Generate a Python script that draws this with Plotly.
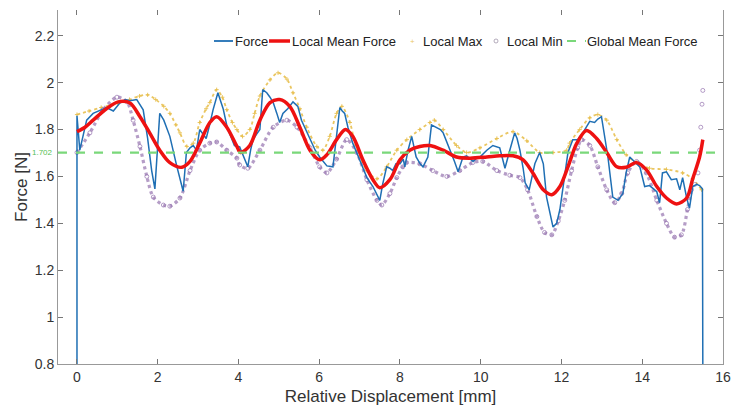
import plotly.graph_objects as go

# ---------------- data ----------------
force_x = [0, 0, 0.07, 0.15, 0.24, 0.4, 0.55, 0.73, 0.9, 1.06, 1.19, 1.31, 1.48, 1.64, 1.75, 1.85, 1.93, 1.98,
           2.05, 2.15, 2.3, 2.47, 2.63, 2.71, 2.8, 2.88, 2.96, 3.04, 3.12, 3.2, 3.3, 3.37, 3.49, 3.62, 3.72, 3.79,
           3.9, 4.03, 4.15, 4.23, 4.3, 4.36, 4.45, 4.53, 4.6, 4.7, 4.78, 4.86, 4.95, 5.02, 5.1, 5.22, 5.35, 5.47,
           5.56, 5.66, 5.77, 5.9, 6.01, 6.1, 6.19, 6.34, 6.43, 6.51, 6.57, 6.63, 6.71, 6.83, 7.0, 7.1, 7.18, 7.33,
           7.42, 7.5, 7.57, 7.67, 7.75, 7.82, 7.9, 8.0, 8.08, 8.12, 8.2, 8.29, 8.4, 8.5, 8.57, 8.69, 8.78, 8.9,
           9.0, 9.07, 9.15, 9.23, 9.35, 9.44, 9.56, 9.65, 9.73, 9.81, 9.9, 9.98, 10.15, 10.3, 10.47, 10.55, 10.6,
           10.72, 10.84, 10.9, 10.97, 11.05, 11.1, 11.2, 11.34, 11.46, 11.55, 11.63, 11.72, 11.79, 11.88, 11.96,
           12.08, 12.16, 12.28, 12.4, 12.53, 12.62, 12.7, 12.82, 12.9, 12.99, 13.07, 13.15, 13.27, 13.4, 13.52,
           13.6, 13.69, 13.8, 13.94, 14.06, 14.18, 14.28, 14.36, 14.43, 14.5, 14.6, 14.72, 14.85, 14.93, 15.0,
           15.1, 15.17, 15.25, 15.35, 15.42, 15.49, 15.5]
force_y = [0.8, 1.859, 1.712, 1.771, 1.840, 1.869, 1.879, 1.894, 1.879, 1.913, 1.928, 1.923, 1.928, 1.884,
           1.762, 1.625, 1.547, 1.664, 1.869, 1.840, 1.771, 1.645, 1.537, 1.702, 1.722, 1.732, 1.712, 1.800,
           1.781, 1.762, 1.830, 1.884, 1.957, 1.889, 1.810, 1.781, 1.732, 1.726, 1.674, 1.641, 1.712, 1.757,
           1.781, 1.800, 1.970, 1.957, 1.938, 1.915, 1.869, 1.830, 1.869, 1.889, 1.918, 1.899, 1.840, 1.800,
           1.757, 1.712, 1.683, 1.664, 1.645, 1.641, 1.771, 1.894, 1.879, 1.869, 1.810, 1.742, 1.671, 1.625,
           1.595, 1.557, 1.527, 1.498, 1.566, 1.641, 1.635, 1.625, 1.654, 1.654, 1.674, 1.641, 1.712, 1.771,
           1.683, 1.654, 1.641, 1.683, 1.820, 1.810, 1.800, 1.786, 1.752, 1.722, 1.664, 1.620, 1.683, 1.688,
           1.674, 1.664, 1.678, 1.683, 1.712, 1.732, 1.722, 1.674, 1.635, 1.712, 1.786, 1.762, 1.712, 1.635,
           1.573, 1.543, 1.654, 1.702, 1.654, 1.512, 1.439, 1.384, 1.400, 1.459, 1.605, 1.702, 1.757, 1.757,
           1.786, 1.810, 1.835, 1.830, 1.845, 1.855, 1.771, 1.683, 1.512, 1.498, 1.527, 1.615, 1.683, 1.664,
           1.641, 1.557, 1.561, 1.547, 1.535, 1.488, 1.615, 1.620, 1.586, 1.590, 1.543, 1.595, 1.508, 1.465,
           1.557, 1.566, 1.561, 1.547, 0.8]

mean_x = [0, 0.2, 0.4, 0.73, 1.02, 1.31, 1.56, 1.8, 2.05, 2.3, 2.6, 2.8, 3.04, 3.29, 3.46, 3.71, 3.96, 4.05,
          4.28, 4.53, 4.78, 5.02, 5.27, 5.52, 5.77, 6.01, 6.19, 6.43, 6.65, 6.83, 7.08, 7.33, 7.5, 7.75, 8.0,
          8.24, 8.49, 8.74, 9.07, 9.4, 9.73, 10.15, 10.47, 10.8, 11.05, 11.29, 11.55, 11.76, 11.96, 12.16,
          12.38, 12.62, 12.87, 13.12, 13.37, 13.6, 13.86, 14.1, 14.36, 14.6, 14.85, 15.1, 15.25, 15.42, 15.5]
mean_y = [1.791, 1.810, 1.840, 1.889, 1.918, 1.913, 1.855, 1.786, 1.712, 1.659, 1.639, 1.664, 1.742, 1.830,
          1.855, 1.810, 1.728, 1.702, 1.732, 1.840, 1.915, 1.928, 1.899, 1.810, 1.712, 1.671, 1.693, 1.757,
          1.800, 1.771, 1.671, 1.586, 1.552, 1.586, 1.671, 1.712, 1.728, 1.732, 1.712, 1.683, 1.678, 1.683,
          1.688, 1.688, 1.671, 1.615, 1.543, 1.522, 1.557, 1.641, 1.742, 1.796, 1.762, 1.702, 1.641, 1.639,
          1.659, 1.629, 1.557, 1.508, 1.483, 1.508, 1.590, 1.683, 1.757]

max_x = [0, 0.3, 0.6, 1.0, 1.3, 1.55, 1.75, 1.95, 2.15, 2.3, 2.45, 2.55, 2.72, 2.88, 3.04, 3.2, 3.29, 3.46,
         3.6, 3.71, 3.85, 3.96, 4.1, 4.28, 4.4, 4.53, 4.78, 4.98, 5.2, 5.35, 5.52, 5.69, 5.94, 6.09, 6.26,
         6.43, 6.56, 6.76, 6.93, 7.18, 7.43, 7.67, 7.92, 8.17, 8.49, 8.74, 8.85, 9.07, 9.4, 9.65, 9.98, 10.4,
         10.8, 11.14, 11.46, 11.79, 12.13, 12.2, 12.45, 12.7, 12.9, 13.12, 13.37, 13.6, 13.86, 14.18, 14.6,
         15.0, 15.25, 15.47]
max_y = [1.864, 1.879, 1.894, 1.913, 1.928, 1.943, 1.948, 1.928, 1.899, 1.869, 1.820, 1.786, 1.728, 1.742,
         1.830, 1.889, 1.915, 1.970, 1.938, 1.885, 1.830, 1.800, 1.771, 1.800, 1.869, 1.943, 2.012, 2.042,
         2.015, 1.957, 1.889, 1.810, 1.728, 1.712, 1.771, 1.869, 1.899, 1.830, 1.712, 1.625, 1.590, 1.641,
         1.712, 1.757, 1.800, 1.830, 1.840, 1.800, 1.732, 1.702, 1.722, 1.762, 1.791, 1.752, 1.702, 1.702,
         1.712, 1.742, 1.800, 1.850, 1.864, 1.840, 1.757, 1.693, 1.659, 1.635, 1.630, 1.615, 1.590, 1.543]

min_x = [0, 0.32, 0.65, 0.99, 1.24, 1.39, 1.56, 1.73, 1.89, 2.14, 2.3, 2.55, 2.8, 3.04, 3.29, 3.46, 3.71,
         3.96, 4.03, 4.23, 4.53, 4.86, 5.2, 5.45, 5.77, 6.01, 6.19, 6.43, 6.68, 6.93, 7.18, 7.43, 7.55, 7.75,
         7.92, 8.07, 8.16, 8.49, 8.81, 9.16, 9.48, 9.8, 10.05, 10.4, 10.72, 10.97, 11.16, 11.39, 11.58, 11.76,
         11.92, 12.08, 12.25, 12.4, 12.5, 12.7, 12.9, 13.12, 13.32, 13.49, 13.64, 13.86, 14.1, 14.36, 14.6,
         14.8, 14.97, 15.12, 15.22, 15.3, 15.38, 15.42, 15.45, 15.48, 15.5]
min_y = [1.702, 1.786, 1.885, 1.938, 1.918, 1.840, 1.728, 1.600, 1.512, 1.478, 1.473, 1.508, 1.625, 1.712,
         1.742, 1.747, 1.712, 1.678, 1.649, 1.635, 1.712, 1.810, 1.840, 1.810, 1.722, 1.641, 1.615, 1.674,
         1.757, 1.702, 1.586, 1.498, 1.478, 1.527, 1.595, 1.641, 1.659, 1.654, 1.625, 1.600, 1.625, 1.659,
         1.664, 1.625, 1.605, 1.595, 1.543, 1.429, 1.361, 1.351, 1.410, 1.498, 1.625, 1.722, 1.757, 1.732,
         1.641, 1.543, 1.488, 1.527, 1.615, 1.664, 1.615, 1.498, 1.400, 1.341, 1.351, 1.459, 1.543, 1.566,
         1.615, 1.712, 1.810, 1.908, 1.967]
dense_min_end = 69  # envelope is a dense chain up to here; the last few points are sparse

global_mean = 1.702
x_ticks = [0, 2, 4, 6, 8, 10, 12, 14, 16]
y_ticks = [0.8, 1.0, 1.2, 1.4, 1.6, 1.8, 2.0, 2.2]
y_tick_text = ["0.8", "1", "1.2", "1.4", "1.6", "1.8", "2", "2.2"]
legend_labels = ["Force", "Local Mean Force", "Local Max", "Local Min", "Global Mean Force"]

# ---------------- styling / layout ----------------
BLUE = "#1f6fb4"
RED = "#ee1111"
YEL = "rgba(232,192,80,0.9)"
PUR = "rgba(150,115,175,0.7)"
GRN = "#7ad87a"
FONT = "Liberation Sans, Arial, sans-serif"
X_RANGE = [-0.47, 16]
Y_RANGE = [0.8, 2.31]
W, H = 731, 410
ML, MR, MT, MB = 58, 8, 10, 46
PW, PH = W - ML - MR, H - MT - MB


def px(xp):  # pixel x -> paper x
    return (xp - ML) / PW


def py(yp):  # pixel y -> paper y
    return (H - MB - yp) / PH


fig = go.Figure()

# local max / min envelopes drawn as dense chains
fig.add_trace(go.Scatter(x=max_x, y=max_y, mode="lines", line=dict(color=YEL, width=1.8, dash="dot",
                         shape="spline", smoothing=0.8), showlegend=False, hoverinfo="skip"))
fig.add_trace(go.Scatter(x=min_x[:dense_min_end], y=min_y[:dense_min_end], mode="lines",
                         line=dict(color=PUR, width=3.2, dash="dot", shape="spline", smoothing=0.8),
                         showlegend=False, hoverinfo="skip"))
fig.add_trace(go.Scatter(x=max_x, y=max_y, mode="markers", name=legend_labels[2], showlegend=False,
                         marker=dict(symbol="cross-thin", size=3, color=YEL, line=dict(color=YEL, width=1))))
fig.add_trace(go.Scatter(x=min_x, y=min_y, mode="markers", name=legend_labels[3], showlegend=False,
                         marker=dict(symbol="circle-open", size=4, color=PUR, line=dict(width=1))))

fig.add_trace(go.Scatter(x=force_x, y=force_y, mode="lines", name=legend_labels[0], showlegend=False,
                         line=dict(color=BLUE, width=1.5)))
fig.add_trace(go.Scatter(x=mean_x, y=mean_y, mode="lines", name=legend_labels[1], showlegend=False,
                         line=dict(color=RED, width=3.5, shape="spline", smoothing=0.9)))
fig.add_trace(go.Scatter(x=X_RANGE, y=[global_mean, global_mean], mode="lines", name=legend_labels[4],
                         showlegend=False, line=dict(color=GRN, width=2.2, dash="dash")))
# carrier trace for the top tick marks
fig.add_trace(go.Scatter(x=X_RANGE, y=[global_mean, global_mean], xaxis="x2", mode="lines",
                         line=dict(width=0), showlegend=False, hoverinfo="skip"))

fig.add_annotation(x=-0.005, xref="paper", y=global_mean, yref="y", text=f"{global_mean:.3f}",
                   showarrow=False, xanchor="right", yanchor="middle",
                   font=dict(family=FONT, size=8, color="#55c055"))

# ---- compact legend row (samples + labels) ----
LEG_Y = 41
shapes = [
    dict(type="line", xref="paper", yref="paper", x0=px(214), x1=px(233), y0=py(LEG_Y), y1=py(LEG_Y),
         line=dict(color=BLUE, width=1.8)),
    dict(type="line", xref="paper", yref="paper", x0=px(269), x1=px(290), y0=py(LEG_Y), y1=py(LEG_Y),
         line=dict(color=RED, width=3.5)),
    dict(type="circle", xref="paper", yref="paper", x0=px(494), x1=px(498), y0=py(LEG_Y + 2), y1=py(LEG_Y - 2),
         line=dict(color="rgba(160,150,170,0.8)", width=1)),
    dict(type="line", xref="paper", yref="paper", x0=px(567), x1=px(586), y0=py(LEG_Y), y1=py(LEG_Y),
         line=dict(color=GRN, width=2.2, dash="dash")),
]
fig.update_layout(shapes=shapes)
fig.add_annotation(x=px(412), y=py(LEG_Y), xref="paper", yref="paper", text="+", showarrow=False,
                   xanchor="center", yanchor="middle", font=dict(family=FONT, size=8, color=YEL))
for label, xl in zip(legend_labels, [233, 290, 421, 505, 585]):
    fig.add_annotation(x=px(xl), y=py(LEG_Y), xref="paper", yref="paper", text=label, showarrow=False,
                       xanchor="left", yanchor="middle", font=dict(family=FONT, size=13, color="#222"))

axis_common = dict(showgrid=False, zeroline=False, ticks="inside", ticklen=5, tickcolor="#777",
                   linecolor="#999", linewidth=1, automargin=False,
                   tickfont=dict(family=FONT, size=14, color="#333"))

fig.update_layout(
    width=W, height=H,
    margin=dict(l=ML, r=MR, t=MT, b=MB),
    paper_bgcolor="white", plot_bgcolor="white",
    font=dict(family=FONT, color="#333"),
    showlegend=False,
    xaxis=dict(range=X_RANGE, tickvals=x_ticks, showline=True, mirror=False,
               title=dict(text="Relative Displacement [mm]", font=dict(family=FONT, size=17, color="#333"),
                          standoff=6),
               **axis_common),
    xaxis2=dict(range=X_RANGE, overlaying="x", side="top", tickvals=x_ticks, showticklabels=False,
                showline=False, showgrid=False, zeroline=False, ticks="inside", ticklen=5, tickcolor="#777",
                automargin=False),
    yaxis=dict(range=Y_RANGE, tickvals=y_ticks, ticktext=y_tick_text, showline=True, mirror="ticks",
               title=dict(text="Force [N]", font=dict(family=FONT, size=17, color="#333"), standoff=2),
               **axis_common),
)

fig.write_html("out.html", config={"displayModeBar": False},
               post_script="document.body.style.margin='0';document.body.style.overflow='hidden';")
